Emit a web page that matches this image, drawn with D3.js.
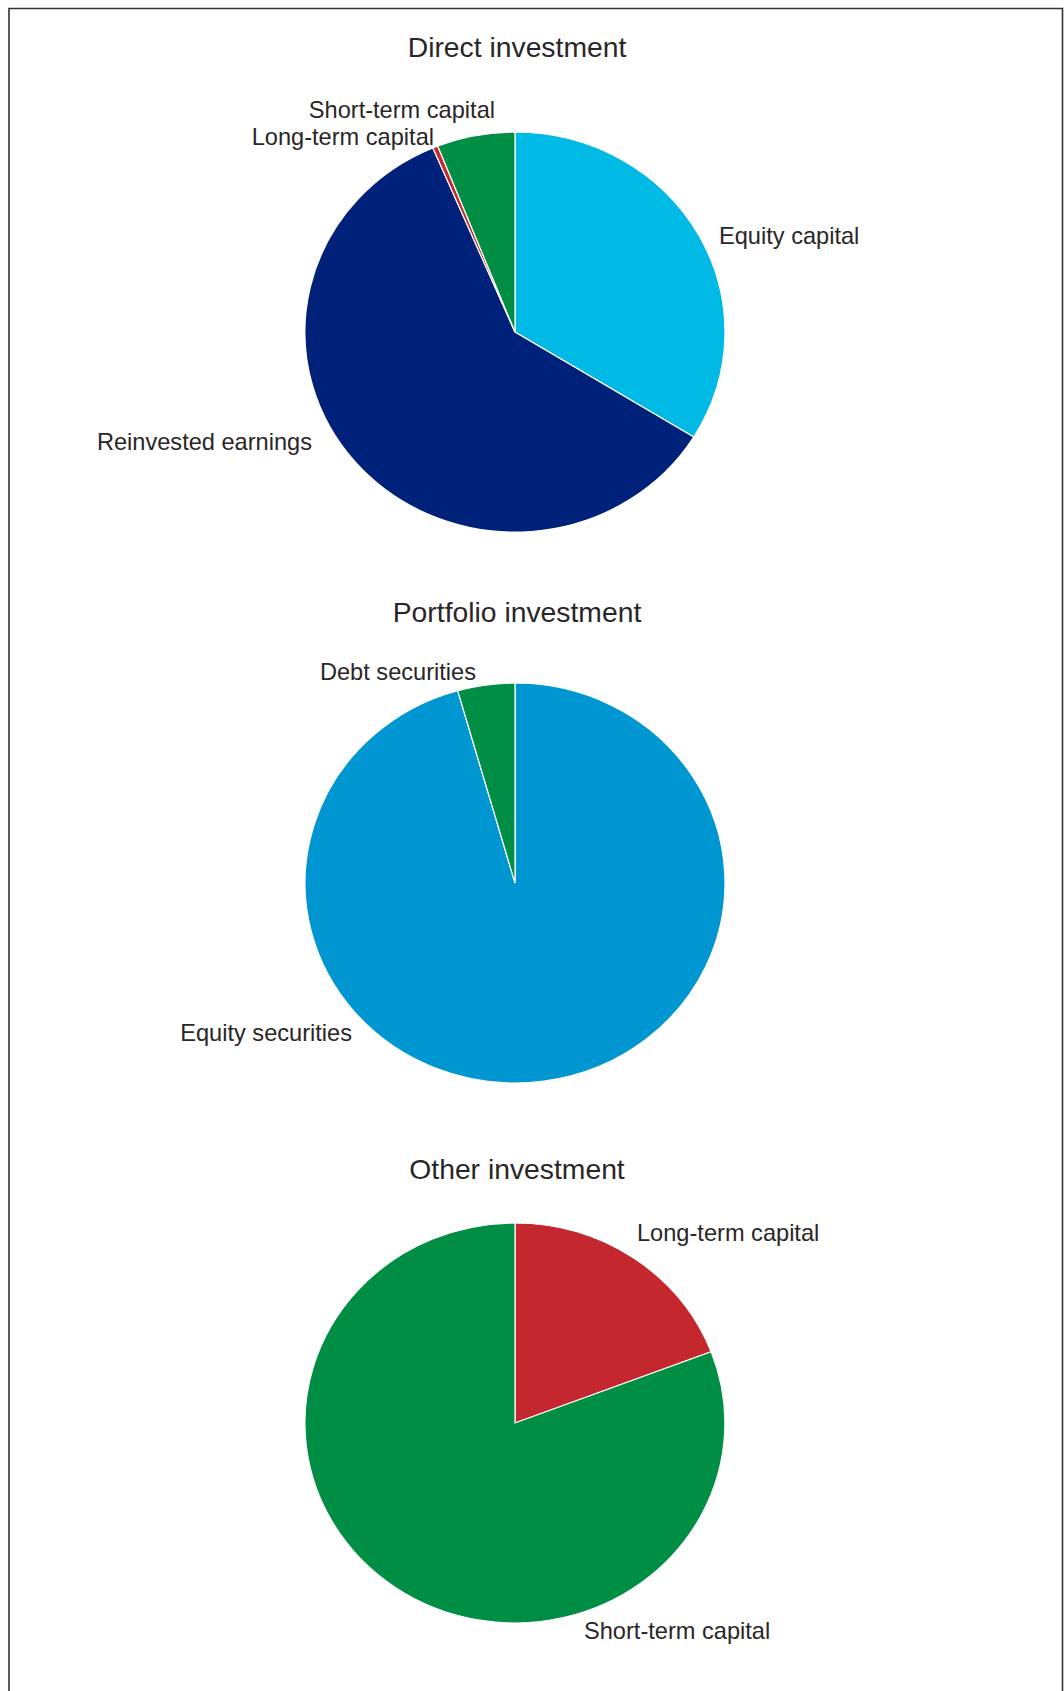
<!DOCTYPE html>
<html>
<head>
<meta charset="utf-8">
<script src="https://cdn.jsdelivr.net/npm/d3@7"></script>
<style>
    body { margin: 0; background: #fff; }
    text { font-family: "Liberation Sans", Arial, Helvetica, sans-serif; fill: #2a2627; }
</style>
</head>
<body>
<script>

// datos de los tres graficos (porcentajes)
var titulos = ["Direct investment", "Portfolio investment", "Other investment"];

var directLabels = ["Equity capital", "Reinvested earnings", "Long-term capital", "Short-term capital"];
var directValues = [33.8, 59.8, 0.4, 6.0];
var directColors = ["#00b9e4", "#00217a", "#c4282e", "#008d44"];

var portfolioLabels = ["Equity securities", "Debt securities"];
var portfolioValues = [95.6, 4.4];
var portfolioColors = ["#0096d1", "#008d44"];

var otherLabels = ["Long-term capital", "Short-term capital"];
var otherValues = [19.2, 80.8];
var otherColors = ["#c4282e", "#008d44"];

// posicion de las etiquetas respecto al centro de cada pie [dx, dy, anchor]
var directLabelPos = [[204, -96, "start"], [-203, 110, "end"], [-81, -195, "end"], [-20, -222, "end"]];
var portfolioLabelPos = [[-163, 150, "end"], [-39, -211, "end"]];
var otherLabelPos = [[122, -190, "start"], [69, 208, "start"]];

var width = 1064;
var height = 1691;
var rx = 210;   // el pie original esta un poco achatado
var ry = 200;
var centroX = 515;
var centrosY = [332, 883, 1423];
var titulosY = [47, 612, 1169];

var svg = d3.select("body").append("svg")
    .attr("width", width)
    .attr("height", height);

// marco (izquierda, arriba, derecha)
svg.append("path")
    .attr("d", "M9," + height + "V8.5H1062.5V" + height)
    .attr("fill", "none")
    .attr("stroke", "#333")
    .attr("stroke-width", 1.6);

var pie = d3.pie().sort(null).value(function(d){ return d.value; });
var arc = d3.arc().innerRadius(0).outerRadius(1);

function dibujarPie(i, labels, values, colors, labelPos){

    var datos = [];
    for(var j = 0; j < values.length; j++){
        datos.push({label: labels[j], value: values[j], color: colors[j], pos: labelPos[j]});
    }

    svg.append("text")
        .attr("x", 517)
        .attr("y", titulosY[i])
        .attr("dy", "0.35em")
        .attr("text-anchor", "middle")
        .style("font-size", "28.3px")
        .text(titulos[i]);

    var g = svg.append("g")
        .attr("transform", "translate(" + centroX + "," + centrosY[i] + ")");

    g.append("g")
        .attr("transform", "scale(" + rx + "," + ry + ")")
        .selectAll("path")
        .data(pie(datos))
        .enter().append("path")
        .attr("d", arc)
        .attr("fill", function(d){ return d.data.color; })
        .attr("stroke", "#fff")
        .attr("stroke-width", 1.2)
        .attr("vector-effect", "non-scaling-stroke");

    g.selectAll("text.etiqueta")
        .data(datos)
        .enter().append("text")
        .attr("class", "etiqueta")
        .attr("x", function(d){ return d.pos[0]; })
        .attr("y", function(d){ return d.pos[1]; })
        .attr("dy", "0.35em")
        .attr("text-anchor", function(d){ return d.pos[2]; })
        .style("font-size", "23.6px")
        .text(function(d){ return d.label; });
}

dibujarPie(0, directLabels, directValues, directColors, directLabelPos);
dibujarPie(1, portfolioLabels, portfolioValues, portfolioColors, portfolioLabelPos);
dibujarPie(2, otherLabels, otherValues, otherColors, otherLabelPos);

</script>
</body>
</html>
